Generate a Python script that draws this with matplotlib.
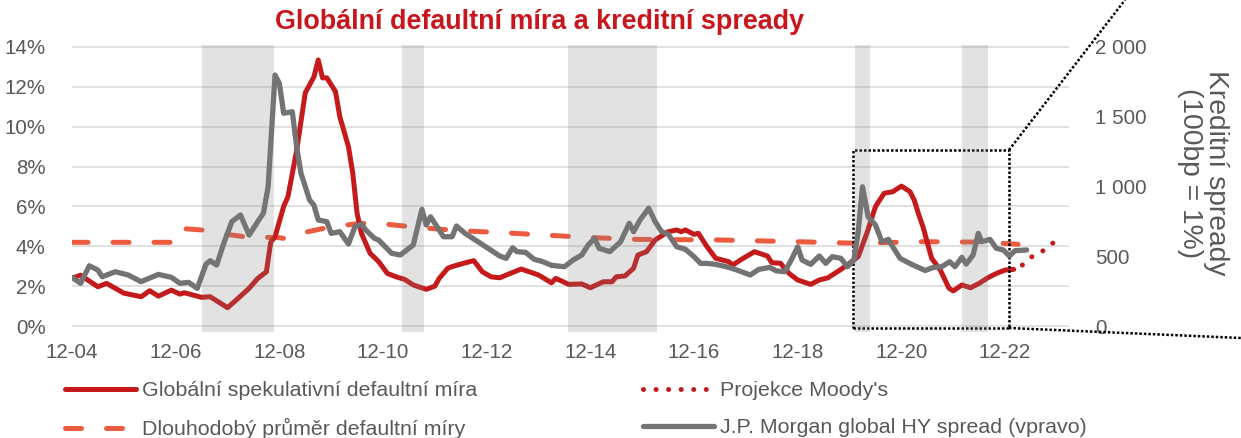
import matplotlib
matplotlib.use("Agg")
import matplotlib.pyplot as plt
from matplotlib.lines import Line2D
from matplotlib.patches import Rectangle
import numpy as np

plt.rcParams['font.family'] = ['Liberation Sans', 'DejaVu Sans']

# x values are months since Dec 2004
tick_months = [0, 24, 48, 72, 96, 120, 144, 168, 192, 216]
tick_labels = ['12-04', '12-06', '12-08', '12-10', '12-12', '12-14', '12-16', '12-18', '12-20', '12-22']

# global speculative default rate (%)
dr_m = [0, 2, 3, 6, 8, 12, 16, 18, 20, 23, 25, 26, 30, 32, 36, 38, 41, 43, 45, 46, 47, 49, 50, 52, 54, 56,
        57, 58, 59, 61, 62, 64, 65, 66, 67, 69, 71, 73, 75, 77, 79, 82, 84, 85, 87, 88, 90, 93, 95, 97, 99,
        101, 104, 108, 111, 112, 115, 118, 120, 123, 125, 126, 128, 130, 131, 133, 135, 138, 140, 141, 142,
        144, 145, 147, 149, 152, 153, 155, 158, 161, 162, 164, 166, 168, 171, 173, 175, 178, 180, 182, 184,
        186, 188, 190, 192, 194, 195, 196, 197, 199, 201, 203, 204, 206, 208, 210, 212, 214, 216, 218]
dr_v = [2.4, 2.55, 2.4, 1.97, 2.14, 1.65, 1.47, 1.77, 1.5, 1.8, 1.6, 1.67, 1.44, 1.47, 0.92, 1.3, 1.89, 2.39,
        2.72, 4.2, 4.48, 6.0, 6.5, 8.8, 11.7, 12.5, 13.35, 12.45, 12.45, 11.76, 10.5, 9.0, 7.66, 5.65, 4.65,
        3.65, 3.23, 2.64, 2.47, 2.34, 2.06, 1.84, 2.0, 2.39, 2.9, 2.98, 3.11, 3.28, 2.72, 2.47, 2.42, 2.6,
        2.86, 2.56, 2.17, 2.39, 2.09, 2.11, 1.92, 2.22, 2.22, 2.47, 2.51, 2.9, 3.56, 3.73, 4.32, 4.73, 4.82,
        4.73, 4.82, 4.6, 4.65, 3.98, 3.4, 3.23, 3.06, 3.35, 3.73, 3.51, 3.18, 3.15, 2.64, 2.31, 2.09, 2.31,
        2.42, 2.84, 3.15, 3.48, 4.65, 5.99, 6.66, 6.74, 7.02, 6.74, 6.3, 5.6, 4.98, 3.4, 2.81, 1.9, 1.76,
        2.06, 1.92, 2.14, 2.42, 2.64, 2.81, 2.84]

# Moody's projection (%)
proj_m = [218, 220, 222, 225, 227, 229]
proj_v = [2.84, 3.06, 3.45, 3.8, 4.15, 4.52]

# long-term average default rate (%)
avg_m = [0, 23.5, 25, 30, 34, 40, 48, 49, 53.5, 60, 67, 73, 81, 90, 100, 109, 119, 130, 149, 168, 182, 196, 211, 219]
avg_v = [4.2, 4.2, 4.9, 4.82, 4.65, 4.48, 4.43, 4.4, 4.68, 4.98, 5.15, 5.1, 4.93, 4.78, 4.68, 4.57, 4.45,
         4.35, 4.32, 4.23, 4.15, 4.23, 4.21, 4.1]

# J.P. Morgan global HY spread (bp, right axis)
hy_m = [0, 2, 4, 6, 7, 10, 13, 16, 20, 23, 25, 27, 29, 31, 32, 33.5, 35, 37, 39, 41, 43.5, 44.3, 45.4, 47,
        48, 49, 51, 52, 53, 55, 56, 57, 59, 60, 62, 64, 65.5, 67, 68, 70, 71, 74, 76, 79, 81, 82, 83, 86, 88,
        89, 91, 94, 97.5, 99, 100.5, 102, 103, 105, 107, 109, 111, 114, 116, 118, 119.5, 121, 122, 124.5,
        127, 129, 130, 131.5, 133.5, 135, 136.5, 138, 140, 142, 144, 145.5, 147, 149, 151.5, 153.5, 157,
        159, 161.5, 163, 165, 166.5, 168, 169, 171, 173, 174.5, 176, 178, 179.5, 181, 182, 183, 184.3, 186,
        187.5, 189, 190, 191.7, 194.5, 197.5, 199.4, 201.3, 203.2, 204.4, 206, 207, 208.6, 209.8, 210.6,
        212.5, 214, 215.6, 217, 218.3, 221]
hy_v = [349, 306, 432, 401, 353, 389, 366, 318, 370, 349, 306, 313, 270, 442, 468, 437, 581, 748, 796, 652,
        772, 808, 998, 1799, 1740, 1525, 1536, 1285, 1095, 903, 867, 760, 748, 664, 676, 588, 712, 729, 688,
        629, 616, 521, 509, 581, 836, 724, 783, 640, 640, 717, 664, 604, 533, 502, 485, 561, 533, 528, 478,
        461, 435, 425, 473, 509, 581, 629, 557, 533, 604, 736, 676, 760, 844, 748, 676, 659, 568, 550, 497,
        449, 449, 442, 425, 406, 366, 406, 420, 396, 389, 473, 568, 473, 442, 502, 449, 497, 485, 425, 473,
        676, 998, 783, 724, 604, 621, 568, 485, 440, 398, 420, 425, 461, 425, 492, 444, 509, 664, 604, 621,
        557, 545, 502, 540, 545]

# shaded periods (months since Dec 2004)
shade_start = [30, 76.4, 114.8, 181.3, 206]
shade_end = [46.8, 81.5, 135.4, 184.7, 212]

RED = '#C41A1C'
AVG = '#EC5B40'
GREY = '#737373'
TXT = '#595959'
DOTS = (0, (1, 0.8))

fig = plt.figure(figsize=(12.41, 4.38), dpi=100)
ax = fig.add_axes([72 / 1241, 1 - 332 / 438, (1069 - 72) / 1241, (332 - 45) / 438])
ax2 = ax.twinx()

ymin, ymax = -0.3, 14.1
ax.set_ylim(ymin, ymax)
ax2.set_ylim(ymin * 2000 / 14, ymax * 2000 / 14)
ax.set_xlim(0, 230.8)

ax.set_yticks(np.arange(0, 15, 2))
ax.set_yticklabels([f'{v}%' for v in range(0, 15, 2)])
ax2.set_yticks([0, 500, 1000, 1500, 2000])
ax2.set_yticklabels(['0', '500', '1 000', '1 500', '2 000'])
ax.set_xticks(tick_months)
ax.set_xticklabels(tick_labels)

ax.grid(axis='y', color='#D9D9D9', lw=1.1)
ax.set_axisbelow(True)
for a in (ax, ax2):
    for s in a.spines.values():
        s.set_visible(False)
ax.tick_params(axis='y', length=0, pad=19, labelsize=14.8, labelcolor=TXT)
ax.tick_params(axis='x', length=0, pad=8, labelsize=14.8, labelcolor=TXT)
ax2.tick_params(axis='y', length=0, pad=19, labelsize=14.8, labelcolor=TXT)

l_dr, = ax.plot(dr_m, dr_v, color=RED, lw=3.6, solid_capstyle='round', solid_joinstyle='round', zorder=3)
l_avg, = ax.plot(avg_m, avg_v, color=AVG, lw=3.6, dashes=(3.2, 5.0), dash_capstyle='round', zorder=2)
l_proj, = ax.plot(proj_m[1:], proj_v[1:], color=RED, lw=3.6, dashes=(0.01, 2.5), dash_capstyle='round', zorder=3)
l_hy, = ax2.plot(hy_m, hy_v, color=GREY, lw=3.8, solid_capstyle='round', solid_joinstyle='round', zorder=2)

for s0, s1 in zip(shade_start, shade_end):
    ax2.axvspan(s0, s1, color='#7F7F7F', alpha=0.22, lw=0, zorder=3)

ax2.set_ylabel('Kreditní spready\n(100bp = 1%)', rotation=270, fontsize=20.3, color=TXT,
               va='bottom', linespacing=1.0)
ax2.yaxis.set_label_coords(1.108, 0.555)

# dotted zoom box and connector lines
box_x0, box_x1, box_y0, box_y1 = 180.8, 216.9, -0.1, 8.83
box = Rectangle((box_x0, box_y0), box_x1 - box_x0, box_y1 - box_y0, fill=False, ec='black', lw=1.8,
                ls=DOTS, zorder=5, clip_on=False)
ax.add_patch(box)
to_fig = ax.transData + fig.transFigure.inverted()
for corner, end in [((box_x1, box_y1), (1125 / 1241, 1.0)), ((box_x1, box_y0), (1.0, 1 - 338 / 438))]:
    cx, cy = to_fig.transform(corner)
    fig.add_artist(Line2D([cx, end[0]], [cy, end[1]], transform=fig.transFigure, color='black',
                          lw=1.8, ls=DOTS, zorder=5))

fig.text(540 / 1241, 1 - 22 / 438, 'Globální defaultní míra a kreditní spready', ha='center', va='center',
         fontsize=19.4, fontweight='bold', color='#C8161D')

leg_kw = dict(loc='upper left', frameon=False, fontsize=15.4, handlelength=3.3, handletextpad=0.3,
              labelspacing=0.85, borderpad=0, borderaxespad=0, labelcolor=TXT)
fig.legend([l_dr, l_avg], ['Globální spekulativní defaultní míra', 'Dlouhodobý průměr defaultní míry'],
           bbox_to_anchor=(65 / 1241, 1 - 381 / 438), **leg_kw)
fig.legend([l_proj, l_hy], ["Projekce Moody's", 'J.P. Morgan global HY spread (vpravo)'],
           bbox_to_anchor=(643 / 1241, 1 - 381 / 438), **leg_kw)

fig.savefig('out.png', dpi=100)
